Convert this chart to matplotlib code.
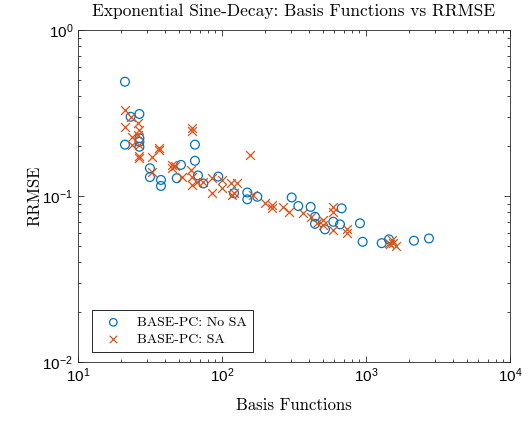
import numpy as np
import matplotlib
matplotlib.use("Agg")
import matplotlib.pyplot as plt
from matplotlib.ticker import LogLocator, NullFormatter

# BASE-PC: No SA  (basis functions, RRMSE)
nosa_x = [21.2, 23.2, 26.7, 21.2, 26.7, 26.7, 26.7, 64.9, 31.6, 31.6,
          37.7, 37.7, 51.9, 64.9, 48.5, 68.1, 74.2, 94.2, 149.9, 149.9,
          175.9, 304.8, 338.8, 413, 442.5, 442.5, 519, 593, 660, 678,
          908, 948, 1285, 1444, 2154, 2738, 121.2]
nosa_y = [0.488, 0.300, 0.312, 0.204, 0.223, 0.212, 0.198, 0.204, 0.147, 0.130,
          0.125, 0.115, 0.154, 0.163, 0.128, 0.133, 0.119, 0.131, 0.105, 0.0955,
          0.099, 0.098, 0.087, 0.086, 0.075, 0.068, 0.063, 0.070, 0.0675, 0.0843,
          0.0685, 0.053, 0.052, 0.0548, 0.0538, 0.0555, 0.104]

# BASE-PC: SA
sa_x = [21.2, 23.2, 26.2, 21.2, 26.7, 23.6, 26.2, 61.6, 62.4, 36.5,
        23.6, 26.7, 26.7, 26.7, 32.5, 36.7, 44.7, 44.7, 47.2, 52.5,
        60.6, 61.6, 61.6, 66.8, 32.5, 156.5, 74.2, 84.8, 99.5, 99.5,
        115.5, 126.5, 84.8, 116.8, 121.8, 165, 198.9, 221.4, 223.6, 266.6,
        293.4, 363.5, 413, 454.7, 505.2, 505.2, 587.3, 587.3, 592.9, 741.5,
        741.5, 1468, 1540, 1615, 1515, 1444]
sa_y = [0.330, 0.300, 0.274, 0.259, 0.250, 0.228, 0.233, 0.257, 0.248, 0.195,
        0.203, 0.203, 0.175, 0.169, 0.172, 0.189, 0.154, 0.147, 0.152, 0.131,
        0.1435, 0.131, 0.1165, 0.122, 0.139, 0.1766, 0.122, 0.128, 0.125, 0.1113,
        0.119, 0.119, 0.1038, 0.1014, 0.1047, 0.1014, 0.0904, 0.0883, 0.0843, 0.0862,
        0.0804, 0.0787, 0.075, 0.0685, 0.0717, 0.0669, 0.0862, 0.0804, 0.0624, 0.063,
        0.0596, 0.0514, 0.0521, 0.0500, 0.0540, 0.052]

BLUE = "#0072BD"
ORANGE = "#D95319"
SERIF = "cmr10"

plt.rcParams["font.family"] = ["Liberation Sans", "DejaVu Sans"]
plt.rcParams["mathtext.fontset"] = "custom"
plt.rcParams["mathtext.rm"] = "Liberation Sans"
plt.rcParams["axes.unicode_minus"] = False

fig = plt.figure(figsize=(5.32, 4.21), dpi=100)
ax = fig.add_axes([0.1466, 0.1401, 0.8120, 0.7886])

ax.scatter(nosa_x, nosa_y, s=40, facecolors="none", edgecolors=BLUE,
           linewidths=0.9, marker="o", label="BASE-PC: No SA", zorder=3)
ax.scatter(sa_x, sa_y, s=40, c=ORANGE, linewidths=0.9, marker="x",
           label="BASE-PC: SA", zorder=3)

ax.set_xscale("log")
ax.set_yscale("log")
ax.set_xlim(10, 1e4)
ax.set_ylim(1e-2, 1)
ax.xaxis.set_major_locator(LogLocator(base=10, numticks=10))
ax.yaxis.set_major_locator(LogLocator(base=10, numticks=10))
ax.xaxis.set_minor_locator(LogLocator(base=10, subs=np.arange(2, 10), numticks=20))
ax.yaxis.set_minor_locator(LogLocator(base=10, subs=np.arange(2, 10), numticks=20))
ax.xaxis.set_minor_formatter(NullFormatter())
ax.yaxis.set_minor_formatter(NullFormatter())

ax.tick_params(which="both", direction="in", top=True, right=True,
               labelsize=11, color="#262626", width=0.6)
ax.tick_params(which="major", length=4.5)
ax.tick_params(which="minor", length=2.5)
for sp in ax.spines.values():
    sp.set_linewidth(0.6)
    sp.set_color("#262626")

ax.set_title("Exponential Sine-Decay: Basis Functions vs RRMSE",
             fontfamily=SERIF, fontsize=12.5, pad=10)
ax.set_xlabel("Basis Functions", fontfamily=SERIF, fontsize=12, labelpad=9)
ax.set_ylabel("RRMSE", fontfamily=SERIF, fontsize=12, labelpad=0)

leg = ax.legend(loc="lower left", bbox_to_anchor=(0.032, 0.03),
                borderaxespad=0,
                prop={"family": SERIF, "size": 10}, fancybox=False,
                framealpha=1, edgecolor="#262626", borderpad=0.45,
                handletextpad=0.6, labelspacing=0.3, markerscale=0.85,
                handlelength=2.2)
leg.get_frame().set_linewidth(0.7)

fig.savefig("out.png", dpi=100)
